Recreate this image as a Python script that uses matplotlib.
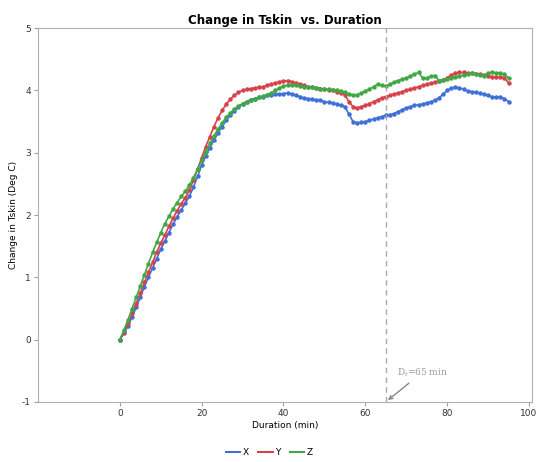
import matplotlib.pyplot as plt
from matplotlib.lines import Line2D

plt.rcParams['axes.unicode_minus'] = False

# duration in minutes, one reading per minute
duration = list(range(0, 96))

tskin_x = [0.00, 0.10, 0.22, 0.36, 0.52, 0.68, 0.85, 1.00, 1.15, 1.30,
           1.45, 1.58, 1.72, 1.85, 1.97, 2.08, 2.19, 2.30, 2.45, 2.62,
           2.80, 2.95, 3.08, 3.20, 3.32, 3.42, 3.52, 3.60, 3.67, 3.73,
           3.78, 3.82, 3.85, 3.87, 3.89, 3.90, 3.92, 3.93, 3.94, 3.94,
           3.95, 3.96, 3.94, 3.93, 3.90, 3.88, 3.87, 3.86, 3.85, 3.84,
           3.82, 3.81, 3.80, 3.78, 3.76, 3.74, 3.62, 3.50, 3.48, 3.49,
           3.50, 3.52, 3.54, 3.56, 3.58, 3.60, 3.61, 3.63, 3.66, 3.69,
           3.72, 3.74, 3.76, 3.77, 3.78, 3.80, 3.82, 3.84, 3.88, 3.94,
           4.00, 4.04, 4.05, 4.04, 4.02, 3.99, 3.98, 3.97, 3.96, 3.94,
           3.92, 3.90, 3.89, 3.90, 3.87, 3.82]

tskin_y = [0.00, 0.12, 0.26, 0.42, 0.58, 0.75, 0.92, 1.08, 1.24, 1.40,
           1.55, 1.68, 1.82, 1.95, 2.07, 2.18, 2.28, 2.40, 2.56, 2.74,
           2.92, 3.10, 3.26, 3.42, 3.56, 3.68, 3.78, 3.86, 3.92, 3.97,
           4.00, 4.02, 4.03, 4.04, 4.05, 4.06, 4.08, 4.10, 4.12, 4.14,
           4.15, 4.16, 4.14, 4.12, 4.10, 4.08, 4.06, 4.05, 4.04, 4.03,
           4.02, 4.01, 4.00, 3.98, 3.96, 3.93, 3.82, 3.74, 3.72, 3.74,
           3.76, 3.79, 3.82, 3.85, 3.88, 3.90, 3.92, 3.94, 3.96, 3.98,
           4.00, 4.02, 4.04, 4.06, 4.08, 4.10, 4.12, 4.13, 4.15, 4.17,
           4.20, 4.25, 4.28, 4.29, 4.29, 4.28, 4.28, 4.27, 4.26, 4.25,
           4.23, 4.22, 4.21, 4.22, 4.20, 4.12]

tskin_z = [0.00, 0.15, 0.32, 0.50, 0.68, 0.86, 1.04, 1.22, 1.40, 1.56,
           1.72, 1.86, 1.98, 2.10, 2.20, 2.30, 2.38, 2.48, 2.60, 2.74,
           2.88, 3.02, 3.15, 3.27, 3.38, 3.48, 3.57, 3.64, 3.70, 3.75,
           3.79, 3.82, 3.85, 3.87, 3.89, 3.91, 3.93, 3.96, 4.00, 4.04,
           4.07, 4.09, 4.09, 4.08, 4.07, 4.06, 4.05, 4.05, 4.04, 4.03,
           4.02, 4.02, 4.01, 4.00, 3.99, 3.97, 3.94, 3.92, 3.93, 3.96,
           3.99, 4.02, 4.06, 4.10, 4.08, 4.07, 4.10, 4.13, 4.16, 4.18,
           4.20, 4.23, 4.26, 4.29, 4.20, 4.20, 4.23, 4.24, 4.16, 4.17,
           4.18, 4.20, 4.22, 4.23, 4.25, 4.26, 4.28, 4.27, 4.25, 4.24,
           4.28, 4.29, 4.28, 4.28, 4.26, 4.20]

series_names = ['X', 'Y', 'Z']
series_colors = ['#3f6fd8', '#d8404a', '#3fa845']
dt_minutes = 65

fig = plt.figure(figsize=(5.39, 4.62), dpi=100)
ax = fig.add_axes([0.0705, 0.130, 0.917, 0.809])

for vals, name, col in zip([tskin_x, tskin_y, tskin_z], series_names, series_colors):
    ax.plot(duration, vals, color=col, lw=1.2, marker='o', ms=2.2,
            mec=col, mfc=col, label=name)

# vertical marker for Dt
ax.axvline(dt_minutes, color='#aaaaaa', lw=1, ls=(0, (4, 3)))
ax.annotate('D$_t$=65 min', xy=(dt_minutes, -1), xytext=(dt_minutes + 2.7, -0.57),
            fontsize=6.5, family='DejaVu Serif', color='#999999',
            arrowprops=dict(arrowstyle='->', color='#888888', lw=1))

ax.set_xlim(-20, 100.8)
ax.set_ylim(-1, 5)
ax.set_xticks([0, 20, 40, 60, 80, 100])
ax.set_yticks([-1, 0, 1, 2, 3, 4, 5])

for s in ax.spines.values():
    s.set_color('#b0b0b0')
ax.tick_params(axis='both', colors='#a0a0a0', labelcolor='#333333',
               labelsize=6.5, length=3, width=0.8, pad=2)

ax.set_title('Change in Tskin  vs. Duration', fontsize=8.5, fontweight='bold', pad=3)
ax.set_xlabel('Duration (min)', fontsize=6.5, labelpad=2)
ax.set_ylabel('Change in Tskin (Deg C)', fontsize=6.5, labelpad=3)

handles = [Line2D([0], [0], color=c, lw=1.5) for c in series_colors]
fig.legend(handles, series_names, loc='center', bbox_to_anchor=(0.5, 0.02),
           ncol=3, frameon=False, fontsize=6.5, handlelength=1.6,
           handletextpad=0.3, columnspacing=1.0)

plt.savefig('out.png', dpi=100)
